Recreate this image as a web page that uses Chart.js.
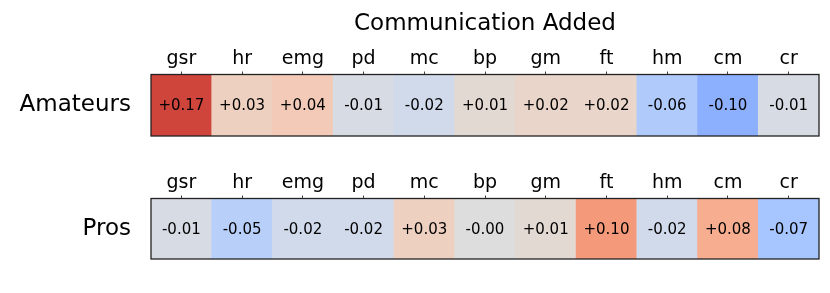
<!DOCTYPE html>
<html>
<head>
<meta charset="utf-8">
<script src="https://cdn.jsdelivr.net/npm/chart.js@4/dist/chart.umd.min.js"></script>
<style>
  body { margin: 0; background: #fff; }
  #wrap { position: relative; width: 830px; height: 293px; }
  .row { position: absolute; left: 0; width: 830px; }
</style>
</head>
<body>
<div id="wrap">
  <div class="row" style="top:0;height:150px"><canvas id="amateurs"></canvas></div>
  <div class="row" style="top:150px;height:143px"><canvas id="pros"></canvas></div>
</div>
<script>
// Data
var sensors = ['gsr', 'hr', 'emg', 'pd', 'mc', 'bp', 'gm', 'ft', 'hm', 'cm', 'cr'];
var amateurValues = [0.17, 0.03, 0.04, -0.01, -0.02, 0.01, 0.02, 0.02, -0.06, -0.10, -0.01];
var proValues = [-0.01, -0.05, -0.02, -0.02, 0.03, -0.00, 0.01, 0.10, -0.02, 0.08, -0.07];
var proText = ['-0.01', '-0.05', '-0.02', '-0.02', '+0.03', '-0.00', '+0.01', '+0.10', '-0.02', '+0.08', '-0.07'];

var FONT = '"DejaVu Sans", sans-serif';

// coolwarm colormap (Moreland), 33 stops
var cw = [
  [59,76,192],[68,90,204],[77,104,215],[87,117,225],[98,130,234],[108,142,241],
  [119,154,247],[130,165,251],[141,176,254],[152,185,255],[163,194,255],[174,201,253],
  [184,208,249],[194,213,244],[204,217,238],[213,219,230],[221,221,221],[229,216,209],
  [236,211,197],[241,204,185],[245,196,173],[247,187,160],[247,177,148],[247,166,135],
  [244,154,123],[241,141,111],[236,127,99],[229,112,88],[222,96,77],[213,80,66],
  [203,62,56],[192,40,47],[180,4,38]
];
function coolwarm(v) {
  var t = (v + 0.2) / 0.4;
  t = Math.max(0, Math.min(1, t)) * 32;
  var i = Math.min(31, Math.floor(t)), f = t - i;
  var a = cw[i], b = cw[i + 1];
  return 'rgb(' + [0, 1, 2].map(function (k) { return Math.round(a[k] + (b[k] - a[k]) * f); }).join(',') + ')';
}
function fmt(v) {
  return (v > 0 ? '+' : '-') + Math.abs(v).toFixed(2);
}

var cellPlugin = {
  id: 'cells',
  afterDatasetsDraw: function (chart) {
    var ctx = chart.ctx, ca = chart.chartArea;
    var vals = chart.options.plugins.cells.values;
    var texts = chart.options.plugins.cells.texts;
    var meta = chart.getDatasetMeta(0);
    ctx.save();
    ctx.fillStyle = '#000';
    ctx.font = '15px ' + FONT;
    ctx.textAlign = 'center';
    ctx.textBaseline = 'middle';
    meta.data.forEach(function (bar, i) {
      ctx.fillText(texts ? texts[i] : fmt(vals[i]), bar.x, (ca.top + ca.bottom) / 2 + 1);
    });
    ctx.strokeStyle = '#222';
    ctx.lineWidth = 1.3;
    ctx.strokeRect(ca.left, ca.top, ca.right - ca.left, ca.bottom - ca.top);
    ctx.restore();
  }
};

function renderRow(id, rowName, values, texts, title, axisHeight, bottomPad) {
  var canvas = document.getElementById(id);
  return new Chart(canvas, {
    type: 'bar',
    data: {
      labels: sensors,
      datasets: [{
        data: values.map(function () { return [0, 1]; }),
        backgroundColor: values.map(coolwarm),
        borderWidth: 0,
        barPercentage: 1,
        categoryPercentage: 1
      }]
    },
    options: {
      responsive: true,
      maintainAspectRatio: false,
      animation: false,
      events: [],
      layout: { padding: { left: 0, right: 11, top: 0, bottom: bottomPad } },
      plugins: {
        legend: { display: false },
        tooltip: { enabled: false },
        cells: { values: values, texts: texts }
      },
      scales: {
        x: {
          position: 'top',
          grid: { offset: false, drawOnChartArea: false, drawTicks: true, tickLength: 3, color: '#444' },
          border: { display: false },
          ticks: { color: '#000', font: { family: FONT, size: 19 }, padding: 1, maxRotation: 0, autoSkip: false },
          title: {
            display: !!title, text: title, color: '#000',
            font: { family: FONT, size: 23 }, padding: { top: 10, bottom: 0 }
          },
          afterFit: function (s) { s.height = axisHeight; }
        },
        y: {
          min: 0, max: 1,
          grid: { display: true, drawOnChartArea: false, drawTicks: true, tickLength: 20, color: 'rgba(0,0,0,0)' },
          border: { display: false },
          ticks: {
            autoSkip: false, color: '#000', padding: 0,
            font: { family: FONT, size: 23 },
            callback: function () { return rowName; }
          },
          afterBuildTicks: function (s) { s.ticks = [{ value: 0.5 }]; },
          afterFit: function (s) { s.width = 151; }
        }
      }
    },
    plugins: [cellPlugin]
  });
}

renderRow('amateurs', 'Amateurs', amateurValues, null, 'Communication Added', 74.5, 14);
renderRow('pros', 'Pros', proValues, proText, '', 48.5, 34);
</script>
</body>
</html>
